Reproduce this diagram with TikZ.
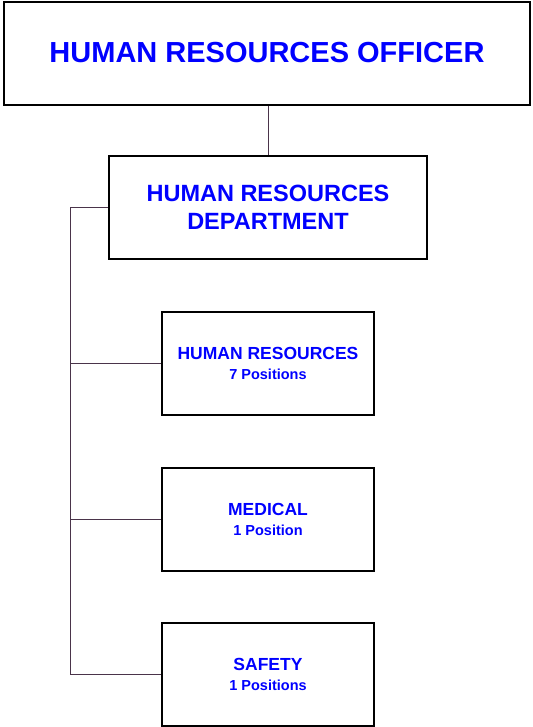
\documentclass[tikz,border=0pt]{standalone}
\usepackage{fontspec}
\setmainfont{Liberation Sans}
\definecolor{hrblue}{RGB}{0,0,255}
\definecolor{linkline}{RGB}{74,52,74}
\begin{document}
\begin{tikzpicture}[x=1pt,y=-1pt,
  box/.style={draw=black, line width=1.6pt, fill=white, align=center,
    text=hrblue, font=\bfseries, inner sep=0pt},
  conn/.style={draw=linkline, line width=0.9pt},
  big/.style={font=\bfseries\fontsize{29}{34}\selectfont},
  mid/.style={font=\bfseries\fontsize{23.5}{28}\selectfont},
  small/.style={font=\bfseries\fontsize{17.5}{20}\selectfont}]
\useasboundingbox (0,0) rectangle (532,727);

% boxes
\node[box, big, minimum width=526pt, minimum height=103pt] (officer) at (267,53.5)
  {\raisebox{2.5pt}{HUMAN RESOURCES OFFICER}};
\node[box, mid, minimum width=318pt, minimum height=103pt] (dept) at (268,207.5)
  {HUMAN RESOURCES\\DEPARTMENT};
\node[box, small, minimum width=212pt, minimum height=103pt] (hr) at (268,363.5)
  {HUMAN RESOURCES\\{\fontsize{14.5}{20}\selectfont 7 Positions}};
\node[box, small, minimum width=212pt, minimum height=103pt] (medical) at (268,519.5)
  {MEDICAL\\{\fontsize{14.5}{20}\selectfont 1 Position}};
\node[box, small, minimum width=212pt, minimum height=103pt] (safety) at (268,674.5)
  {SAFETY\\{\fontsize{14.5}{20}\selectfont 1 Positions}};

% connectors
\coordinate (trunk) at (70,207.5);
\draw[conn] (dept.north |- officer.south) -- (dept.north);
\draw[conn] (dept.west) -- (trunk) |- (safety.west);
\draw[conn] (hr.west) -- (hr.west -| trunk);
\draw[conn] (medical.west) -- (medical.west -| trunk);
\end{tikzpicture}
\end{document}
